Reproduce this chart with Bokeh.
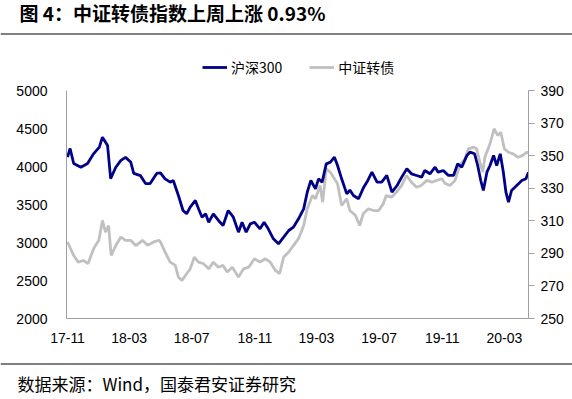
import pandas as pd
from bokeh.plotting import figure
from bokeh.core.properties import value
from bokeh.models import (Range1d, LinearAxis, FixedTicker, DatetimeTickFormatter,
                          Legend, LegendItem)
from bokeh.embed import file_html
from bokeh.resources import INLINE

TITLE = "图 4：中证转债指数上周上涨 0.93%"
SOURCE = "数据来源：Wind，国泰君安证券研究"
SERIES_NAMES = ["沪深300", "中证转债"]
SERIES_COLORS = ["#000088", "#C0C0C0"]

hs_dates = [
    "2017-11-01", "2017-11-06", "2017-11-13", "2017-11-27", "2017-12-10", "2017-12-22",
    "2018-01-02", "2018-01-08", "2018-01-18", "2018-01-24", "2018-02-03", "2018-02-13",
    "2018-02-22", "2018-03-04", "2018-03-10", "2018-03-23", "2018-04-02", "2018-04-11",
    "2018-04-24", "2018-05-01", "2018-05-10", "2018-05-20", "2018-05-26", "2018-06-05",
    "2018-06-14", "2018-06-21", "2018-06-28", "2018-07-08", "2018-07-14", "2018-07-21",
    "2018-07-28", "2018-08-03", "2018-08-12", "2018-08-22", "2018-08-31", "2018-09-10",
    "2018-09-20", "2018-09-30", "2018-10-07", "2018-10-15", "2018-10-23", "2018-10-31",
    "2018-11-11", "2018-11-19", "2018-11-27", "2018-12-07", "2018-12-17", "2018-12-27",
    "2019-01-06", "2019-01-15", "2019-01-25", "2019-02-04", "2019-02-11", "2019-02-18",
    "2019-02-27", "2019-03-05", "2019-03-12", "2019-03-20", "2019-03-28", "2019-04-05",
    "2019-04-11", "2019-04-19", "2019-04-29", "2019-05-05", "2019-05-12", "2019-05-22",
    "2019-06-01", "2019-06-09", "2019-06-17", "2019-06-27", "2019-07-06", "2019-07-16",
    "2019-07-26", "2019-08-05", "2019-08-14", "2019-08-24", "2019-09-02", "2019-09-12",
    "2019-09-22", "2019-09-28", "2019-10-08", "2019-10-18", "2019-10-24", "2019-11-03",
    "2019-11-13", "2019-11-23", "2019-12-01", "2019-12-09", "2019-12-19", "2019-12-25",
    "2020-01-03", "2020-01-09", "2020-01-15", "2020-01-20", "2020-01-27", "2020-02-02",
    "2020-02-09", "2020-02-15", "2020-02-22", "2020-02-28", "2020-03-04", "2020-03-09",
    "2020-03-15", "2020-03-25", "2020-04-04", "2020-04-12", "2020-04-17",
]
hs_values = [
    4123, 4237, 4040, 3990, 4040, 4170,
    4255, 4386, 4276, 3840, 3990, 4080,
    4120, 4060, 3910, 3880, 3775, 3775,
    3910, 3917, 3838, 3794, 3816, 3618,
    3421, 3377, 3465, 3553, 3447, 3333,
    3377, 3267, 3377, 3290, 3224, 3421,
    3333, 3136, 3267, 3136, 3245, 3267,
    3180, 3267, 3180, 3048, 2983, 3070,
    3158, 3202, 3312, 3443, 3662, 3816,
    3706, 3838, 3794, 4035, 4057, 4123,
    4013, 3838, 3640, 3690, 3618, 3575,
    3728, 3816, 3925, 3794, 3794, 3882,
    3662, 3750, 3860, 3970, 3904, 3882,
    3860, 3948, 3904, 3992, 3925, 3948,
    3882, 3882, 4035, 3992, 4145, 4189,
    4167, 4013, 3816, 3684, 3925, 4013,
    4145, 4013, 4167, 3925, 3662, 3531,
    3684, 3750, 3816, 3838, 3925,
]

cb_dates = [
    "2017-11-01", "2017-11-13", "2017-11-22", "2017-12-02", "2017-12-11", "2017-12-22",
    "2018-01-01", "2018-01-08", "2018-01-14", "2018-01-20", "2018-01-25", "2018-02-03",
    "2018-02-13", "2018-02-22", "2018-03-04", "2018-03-14", "2018-03-27", "2018-04-06",
    "2018-04-18", "2018-04-28", "2018-05-01", "2018-05-10", "2018-05-20", "2018-05-30",
    "2018-06-05", "2018-06-12", "2018-06-21", "2018-06-28", "2018-07-06", "2018-07-14",
    "2018-07-24", "2018-08-03", "2018-08-12", "2018-08-22", "2018-08-31", "2018-09-08",
    "2018-09-18", "2018-09-30", "2018-10-10", "2018-10-20", "2018-10-31", "2018-11-11",
    "2018-11-21", "2018-12-01", "2018-12-11", "2018-12-19", "2018-12-27", "2019-01-06",
    "2019-01-15", "2019-01-25", "2019-02-04", "2019-02-11", "2019-02-21", "2019-02-27",
    "2019-03-08", "2019-03-13", "2019-03-20", "2019-03-28", "2019-04-05", "2019-04-11",
    "2019-04-19", "2019-04-29", "2019-05-05", "2019-05-16", "2019-05-24", "2019-05-31",
    "2019-06-10", "2019-06-20", "2019-06-30", "2019-07-09", "2019-07-15", "2019-07-25",
    "2019-08-04", "2019-08-14", "2019-08-23", "2019-09-02", "2019-09-12", "2019-09-21",
    "2019-10-02", "2019-10-12", "2019-10-21", "2019-10-31", "2019-11-06", "2019-11-16",
    "2019-11-26", "2019-12-05", "2019-12-15", "2019-12-22", "2020-01-01", "2020-01-07",
    "2020-01-14", "2020-01-19", "2020-01-23", "2020-02-02", "2020-02-10", "2020-02-17",
    "2020-02-23", "2020-03-01", "2020-03-09", "2020-03-18", "2020-03-28", "2020-04-05",
    "2020-04-14", "2020-04-17",
]
cb_values = [
    297.0, 288.7, 284.6, 285.6, 283.7, 293.0,
    298.0, 310.2, 303.0, 307.0, 288.7, 294.8,
    300.0, 298.0, 298.0, 294.8, 298.0, 295.0,
    297.0, 298.0, 297.0, 290.8, 284.6, 282.6,
    275.4, 273.4, 277.5, 280.5, 287.7, 284.6,
    283.6, 280.5, 284.6, 281.5, 282.6, 278.5,
    281.5, 275.4, 280.5, 281.5, 286.7, 284.6,
    286.7, 284.6, 279.5, 277.5, 287.7, 290.8,
    294.8, 299.0, 307.1, 317.4, 325.5, 323.5,
    331.7, 321.4, 341.9, 339.8, 335.8, 332.7,
    319.4, 323.5, 316.3, 313.3, 307.1, 314.3,
    317.4, 316.3, 316.3, 320.4, 325.5, 324.5,
    327.6, 331.7, 337.8, 333.7, 330.6, 331.7,
    334.8, 333.7, 334.8, 335.8, 333.0, 331.7,
    334.8, 344.0, 348.0, 354.2, 355.2, 354.2,
    345.0, 339.9, 349.0, 357.3, 366.5, 362.4,
    364.4, 354.2, 352.1, 351.1, 349.0, 350.0,
    352.1, 351.5,
]

x_tick_dates = ["2017-11-01", "2018-03-01", "2018-07-01", "2018-11-01",
                "2019-03-01", "2019-07-01", "2019-11-01", "2020-03-01"]
left_ticks = [2000, 2500, 3000, 3500, 4000, 4500, 5000]
right_ticks = [250, 270, 290, 310, 330, 350, 370, 390]
x_start, x_end = "2017-10-30", "2020-04-17"

W = 572
TOP_H, MAIN_H, BOT_H = 80, 270, 49
FL, FR = 66, 528                     # frame left/right (page px)
FT, FB = 90 - TOP_H, 318 - TOP_H     # frame top/bottom inside the main figure

CJK = "Noto Sans CJK SC"
TICK_FONT = "Liberation Sans"
AX = "#A0A0A0"
LW = 2.8
NAN = float("nan")


def blank_fig(h):
    f = figure(width=W, height=h, output_backend="svg", toolbar_location=None,
               x_range=Range1d(0, W), y_range=Range1d(h, 0),
               x_axis_type=None, y_axis_type=None,
               min_border_left=0, min_border_right=0,
               min_border_top=0, min_border_bottom=0)
    f.outline_line_color = None
    f.xgrid.visible = False
    f.ygrid.visible = False
    f.background_fill_color = "white"
    f.border_fill_color = "white"
    return f


# ---- title strip (title, rule, legend) ----
top = blank_fig(TOP_H)
top.text(x=[19], y=[12], text=[TITLE], text_font=value(CJK), text_font_size="19px",
         text_font_style="bold", text_baseline="middle", text_align="left",
         text_color="#000000")
top.line(x=[0, W], y=[33.5, 33.5], line_color="#000000", line_width=1)
# legend keys: line renderers styled like the series (no visible data of their own)
key_renderers = [top.line(x=[NAN, NAN], y=[NAN, NAN], line_color=c, line_width=LW)
                 for c in SERIES_COLORS]
legend = Legend(items=[LegendItem(label=n, renderers=[r], index=0)
                       for n, r in zip(SERIES_NAMES, key_renderers)],
                orientation="horizontal", location=(202, TOP_H - 77),
                glyph_width=25, glyph_height=16, label_standoff=4, spacing=27,
                padding=0, margin=0, border_line_color=None,
                background_fill_alpha=0, label_height=16,
                label_text_font=CJK, label_text_font_size="14px",
                label_text_color="#000000")
top.add_layout(legend)

# ---- main chart ----
p = figure(width=W, height=MAIN_H, x_axis_type="datetime", output_backend="svg",
           toolbar_location=None,
           x_range=Range1d(pd.Timestamp(x_start), pd.Timestamp(x_end)),
           y_range=Range1d(left_ticks[0], left_ticks[-1]),
           min_border_left=FL, min_border_right=W - FR,
           min_border_top=FT, min_border_bottom=MAIN_H - FB)
p.outline_line_color = None
p.xgrid.visible = False
p.ygrid.visible = False
p.background_fill_color = "white"
p.border_fill_color = "white"
p.extra_y_ranges = {"cb": Range1d(right_ticks[0], right_ticks[-1])}

xa = p.xaxis[0]
xa.ticker = FixedTicker(ticks=[pd.Timestamp(d).value / 1e6 for d in x_tick_dates])
fmt = "%y-%m"
xa.formatter = DatetimeTickFormatter(days=fmt, months=fmt, years=fmt, hours=fmt,
                                     minutes=fmt, seconds=fmt, milliseconds=fmt,
                                     microseconds=fmt, minsec=fmt, hourmin=fmt)
xa.axis_line_color = AX
xa.major_tick_line_color = None
xa.minor_tick_line_color = None
xa.major_label_text_font = TICK_FONT
xa.major_label_text_font_size = "14px"
xa.major_label_text_color = "#000000"
xa.major_label_standoff = 8

ya = p.yaxis[0]
ya.ticker = FixedTicker(ticks=left_ticks)
ya.axis_line_color = AX
ya.major_tick_line_color = None
ya.minor_tick_line_color = None
ya.major_label_text_font = TICK_FONT
ya.major_label_text_font_size = "14px"
ya.major_label_text_color = "#000000"
ya.major_label_standoff = 13

ra = LinearAxis(y_range_name="cb", ticker=FixedTicker(ticks=right_ticks))
ra.axis_line_color = AX
ra.major_tick_line_color = AX
ra.major_tick_out = 6
ra.major_tick_in = 0
ra.minor_tick_line_color = None
ra.major_label_text_font = TICK_FONT
ra.major_label_text_font_size = "14px"
ra.major_label_text_color = "#000000"
ra.major_label_standoff = 6
p.add_layout(ra, "right")

p.line(pd.to_datetime(cb_dates), cb_values, y_range_name="cb",
       line_color=SERIES_COLORS[1], line_width=LW)
p.line(pd.to_datetime(hs_dates), hs_values,
       line_color=SERIES_COLORS[0], line_width=LW)

# ---- source strip ----
bot = blank_fig(BOT_H)
bot.line(x=[0, W], y=[13.5, 13.5], line_color="#000000", line_width=1)
bot.text(x=[17], y=[33], text=[SOURCE], text_font=value(CJK), text_font_size="17px",
         text_baseline="middle", text_align="left", text_color="#000000")

open("out.html", "w").write(file_html([top, p, bot], INLINE))
